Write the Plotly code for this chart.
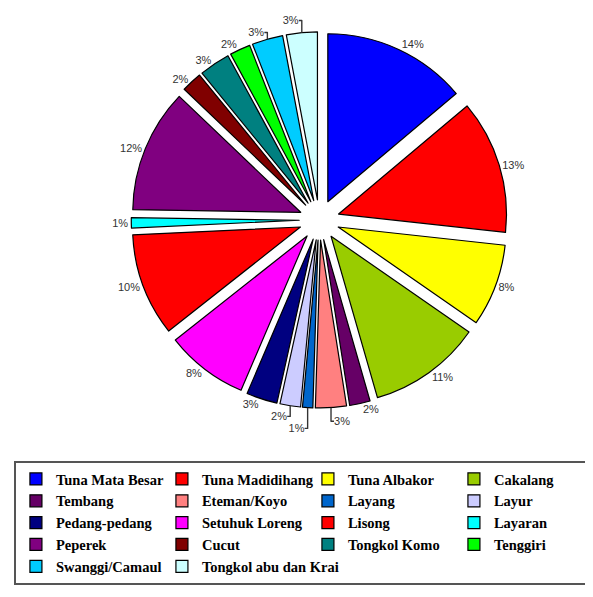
import plotly.graph_objects as go

categories = ["Tuna Mata Besar", "Tuna Madidihang", "Tuna Albakor", "Cakalang",
              "Tembang", "Eteman/Koyo", "Layang", "Layur",
              "Pedang-pedang", "Setuhuk Loreng", "Lisong", "Layaran",
              "Peperek", "Cucut", "Tongkol Komo", "Tenggiri",
              "Swanggi/Camaul", "Tongkol abu dan Krai"]
values = [14, 13, 8, 11, 2, 3, 1, 2, 3, 8, 10, 1, 12, 2, 3, 2, 3, 3]
colors = ["#0000FF", "#FF0000", "#FFFF00", "#99CC00",
          "#660066", "#FF8080", "#0066CC", "#CCCCFF",
          "#000080", "#FF00FF", "#FF0000", "#00FFFF",
          "#800080", "#800000", "#008080", "#00FF00",
          "#00CCFF", "#CCFFFF"]

fig = go.Figure(go.Pie(
    labels=categories,
    values=values,
    sort=False,
    direction="clockwise",
    rotation=0,
    pull=[0.12] * len(values),
    marker=dict(colors=colors, line=dict(color="black", width=1.2)),
    texttemplate="%{value}%",
    textposition="outside",
    textfont=dict(family="Arial, Liberation Sans", size=11, color="#333333"),
    domain=dict(x=[0.05, 1.0], y=[0.33, 0.96]),
    hoverinfo="label+value",
))

fig.update_layout(
    width=593, height=597,
    margin=dict(l=0, r=0, t=0, b=0, autoexpand=False),
    paper_bgcolor="white",
    plot_bgcolor="white",
    showlegend=True,
    legend=dict(
        orientation="h",
        x=0.01, y=1 - 453 / 597, xanchor="left", yanchor="top",
        entrywidth=101, entrywidthmode="pixels",
        itemwidth=30,
        font=dict(family="Liberation Serif, Times New Roman, serif", size=14.5,
                  color="black", weight="bold"),
        bordercolor="#555555", borderwidth=2,
        bgcolor="white",
        traceorder="normal",
    ),
)

fig.write_html("out.html")
